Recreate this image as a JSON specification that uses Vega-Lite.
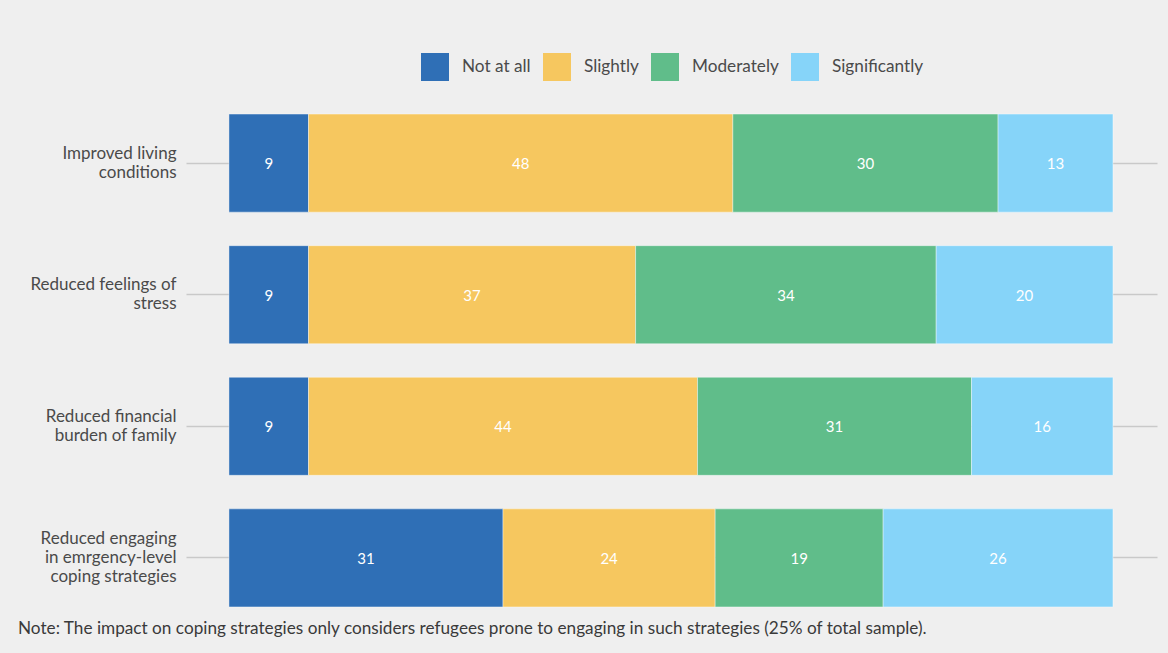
{
  "$schema": "https://vega.github.io/schema/vega-lite/v6.json",
  "autosize": "none",
  "width": 971,
  "height": 527,
  "padding": {"left": 186, "top": 97, "right": 11, "bottom": 29},
  "background": "#efefef",
  "config": {"view": {"stroke": null}},
  "title": {
    "text": "Note: The impact on coping strategies only considers refugees prone to engaging in such strategies (25% of total sample).",
    "orient": "bottom",
    "anchor": "start",
    "frame": "group",
    "dx": -168,
    "offset": -4,
    "font": "Lato",
    "fontSize": 17.2,
    "fontWeight": "normal",
    "color": "#3a3a3a"
  },
  "data": {
    "values": [
      {"item": "Improved living|conditions", "level": "Not at all", "pct": 9},
      {"item": "Improved living|conditions", "level": "Slightly", "pct": 48},
      {"item": "Improved living|conditions", "level": "Moderately", "pct": 30},
      {"item": "Improved living|conditions", "level": "Significantly", "pct": 13},
      {"item": "Reduced feelings of|stress", "level": "Not at all", "pct": 9},
      {"item": "Reduced feelings of|stress", "level": "Slightly", "pct": 37},
      {"item": "Reduced feelings of|stress", "level": "Moderately", "pct": 34},
      {"item": "Reduced feelings of|stress", "level": "Significantly", "pct": 20},
      {"item": "Reduced financial|burden of family", "level": "Not at all", "pct": 9},
      {"item": "Reduced financial|burden of family", "level": "Slightly", "pct": 44},
      {"item": "Reduced financial|burden of family", "level": "Moderately", "pct": 31},
      {"item": "Reduced financial|burden of family", "level": "Significantly", "pct": 16},
      {"item": "Reduced engaging|in emrgency-level|coping strategies", "level": "Not at all", "pct": 31},
      {"item": "Reduced engaging|in emrgency-level|coping strategies", "level": "Slightly", "pct": 24},
      {"item": "Reduced engaging|in emrgency-level|coping strategies", "level": "Moderately", "pct": 19},
      {"item": "Reduced engaging|in emrgency-level|coping strategies", "level": "Significantly", "pct": 26}
    ]
  },
  "transform": [
    {"calculate": "indexof(['Not at all','Slightly','Moderately','Significantly'], datum.level)", "as": "order"}
  ],
  "encoding": {
    "y": {
      "field": "item",
      "type": "nominal",
      "sort": null,
      "scale": {"paddingInner": 0.255, "paddingOuter": 0.13},
      "axis": {
        "title": null,
        "domain": false,
        "ticks": false,
        "grid": true,
        "gridColor": "#c9c9c9",
        "gridWidth": 1.5,
        "labelExpr": "split(datum.label, '|')",
        "labelFont": "Lato",
        "labelFontSize": 17,
        "labelColor": "#4a4a4a",
        "labelPadding": 10,
        "labelLineHeight": 19,
        "labelOffset": {
          "condition": {"test": "length(split(datum.value, '|')) > 2", "value": -19},
          "value": -9.5
        },
        "bandPosition": 0.5
      }
    },
    "x": {
      "field": "pct",
      "type": "quantitative",
      "stack": "zero",
      "scale": {"domain": [-4.86, 104.98], "nice": false, "zero": false},
      "axis": null
    },
    "order": {"field": "order", "type": "quantitative"}
  },
  "layer": [
    {
      "mark": {"type": "bar", "stroke": "#ffffff", "strokeOpacity": 0.4, "strokeWidth": 1},
      "encoding": {
        "color": {
          "field": "level",
          "type": "nominal",
          "sort": ["Not at all", "Slightly", "Moderately", "Significantly"],
          "scale": {
            "domain": ["Not at all", "Slightly", "Moderately", "Significantly"],
            "range": ["#2f6fb6", "#f6c75f", "#60bd8a", "#86d4f9"]
          },
          "legend": {
            "title": null,
            "orient": "none",
            "direction": "horizontal",
            "legendX": 235,
            "legendY": -44,
            "symbolType": "square",
            "symbolSize": 784,
            "symbolStrokeWidth": 0,
            "symbolOpacity": 1,
            "labelFont": "Lato",
            "labelFontSize": 17.2,
            "labelColor": "#4a4a4a",
            "labelOffset": 13,
            "columnPadding": 12,
            "padding": 0
          }
        }
      }
    },
    {
      "mark": {"type": "text", "color": "#ffffff", "font": "Lato", "fontSize": 15, "dy": 1},
      "encoding": {
        "x": {"field": "pct", "type": "quantitative", "stack": "zero", "bandPosition": 0.5},
        "text": {"field": "pct", "type": "quantitative"}
      }
    }
  ]
}
